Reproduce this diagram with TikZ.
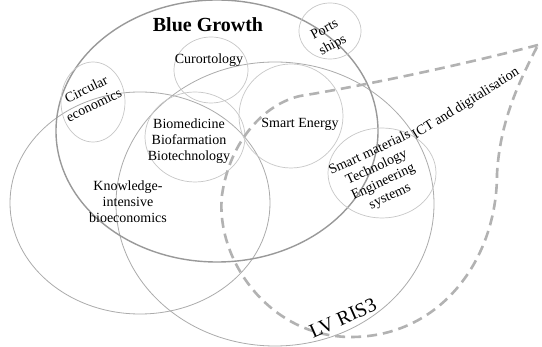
\documentclass[tikz,border=0pt]{standalone}
\usepackage{fontspec}
\setmainfont{Liberation Serif}
\begin{document}
\begin{tikzpicture}[x=1pt,y=-1pt,
  smallc/.style={draw=black!22, line width=0.7pt},
  bige/.style={draw=black!33, line width=0.8pt},
  blueg/.style={draw=black!40, line width=1.4pt},
  dropline/.style={draw=black!30, line width=2.6pt, dash pattern=on 10pt off 6pt},
  lbl/.style={font=\fontsize{14}{16}\selectfont, align=center, inner sep=0pt, text=black},
  lblw/.style={font=\fontsize{14}{17.5}\selectfont, align=center, inner sep=0pt, text=black},
  big/.style={font=\fontsize{20}{24}\selectfont, inner sep=0pt, text=black}]
\useasboundingbox (0,0) rectangle (542,347);
\fill[white] (0,0) rectangle (542,347);
% centres
\coordinate (kibc) at (140,203);
\coordinate (lvc) at (275,204);
\coordinate (bgc) at (217,131);
\coordinate (curc) at (211,70);
\coordinate (circc) at (93,102);
\coordinate (bioc) at (195,137);
\coordinate (sec) at (291,116);
\coordinate (portc) at (330,31);
\coordinate (smtc) at (382,173);
% big ellipses
\draw[bige] (kibc) ellipse [x radius=130pt, y radius=111pt];
\draw[bige] (lvc) ellipse [x radius=159pt, y radius=142pt];
\draw[blueg] (bgc) ellipse [x radius=161pt, y radius=131pt];
% small circles
\draw[smallc] (curc) ellipse [x radius=37pt, y radius=33pt];
\draw[smallc] (circc) ellipse [x radius=32pt, y radius=40pt];
\draw[smallc] (bioc) ellipse [x radius=50pt, y radius=45pt];
\draw[smallc] (sec) ellipse [x radius=52pt, y radius=52pt];
\draw[smallc] (portc) ellipse [x radius=31pt, y radius=28pt];
\draw[smallc] (smtc) ellipse [x radius=54pt, y radius=45pt];
% teardrop
\coordinate (tip) at (538,45);
\coordinate (d1) at (300,96);
\coordinate (d2) at (222,195);
\coordinate (d3) at (351,337);
\coordinate (d4) at (497,174);
\draw[dropline] (tip) .. controls (450,68) and (350,88) .. (d1)
  .. controls (265,104) and (230,140) .. (d2)
  .. controls (215,260) and (270,337) .. (d3)
  .. controls (440,337) and (497,260) .. (d4)
  .. controls (500,120) and (520,80) .. (tip);
% labels
\node[big, font=\bfseries\fontsize{20}{24}\selectfont] (bgt) at (208,25) {Blue Growth};
\node[lbl] (cur) at (209,60) {Curortology};
\node[lblw, rotate=26] (circ) at (90,97) {Circular\\economics};
\node[lblw, rotate=28] (ports) at (329,38) {Ports\\ships};
\node[lbl] (bio) at (189,141) {Biomedicine\\Biofarmation\\Biotechnology};
\node[lbl] (se) at (300,124) {Smart Energy};
\node[lbl] (kib) at (128,202) {Knowledge-\\intensive\\bioeconomics};
\node[lbl, rotate=25] (smt) at (380,175) {Smart materials\\Technology\\Engineering\\systems};
\node[lbl, rotate=32] (ict) at (466,104) {ICT and digitalisation};
\node[big, rotate=24] (lv) at (343,318) {LV RIS3};
\end{tikzpicture}
\end{document}
